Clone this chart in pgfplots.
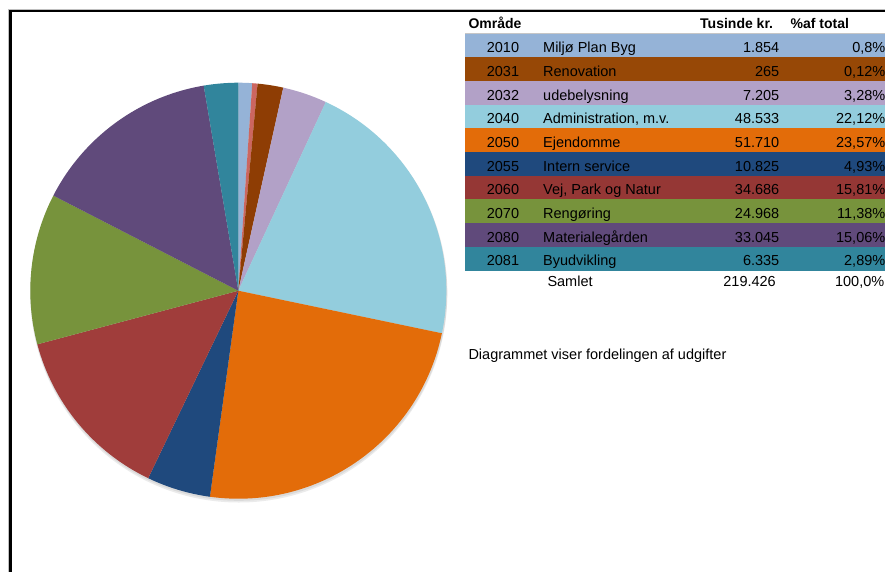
\documentclass[border=0pt]{standalone}
\usepackage{pgfplots}
\pgfplotsset{compat=1.18}
\usepackage{fontspec}
\setmainfont{Liberation Sans}

\definecolor{cLblue}{HTML}{95B3D7}
\definecolor{cSalmon}{HTML}{CC6660}
\definecolor{cBrown}{HTML}{8E3D04}
\definecolor{cBrownT}{HTML}{974806}
\definecolor{cLilac}{HTML}{B2A1C7}
\definecolor{cCyan}{HTML}{93CDDD}
\definecolor{cOrange}{HTML}{E36C09}
\definecolor{cDblue}{HTML}{1F497D}
\definecolor{cRed}{HTML}{A03D3B}
\definecolor{cRedT}{HTML}{953735}
\definecolor{cGreen}{HTML}{77933C}
\definecolor{cPurple}{HTML}{604A7B}
\definecolor{cTeal}{HTML}{31859C}

\tikzset{txt/.style={font=\fontsize{14.5bp}{16bp}\selectfont, inner sep=0pt},
         hdr/.style={font=\fontsize{14bp}{16bp}\selectfont\bfseries, inner sep=0pt}}

% pie wedge: start %, end %, colour (clockwise from 12 o'clock)
\newcommand\slice[3]{%
  \fill[#3] (axis cs:238.3,290.7) -- ++({90-3.6*#1}:208bp)
    arc[start angle={90-3.6*#1}, end angle={90-3.6*#2}, radius=208bp] -- cycle;}

% table row: row index, colour, code, name, value, percent
\newcommand\trow[6]{%
  \fill[#2] (axis cs:465,{33.5+23.7*(#1-1)}) rectangle (axis cs:890,{33.5+23.7*#1});
  \node[txt, anchor=base] at (axis cs:503,{52.6+23.7*(#1-1)}) {#3};
  \node[txt, anchor=base west] at (axis cs:543,{52.6+23.7*(#1-1)}) {#4};
  \node[txt, anchor=base east] at (axis cs:779.5,{52.6+23.7*(#1-1)}) {#5};
  \node[txt, anchor=base east] at (axis cs:885.5,{52.6+23.7*(#1-1)}) {#6};}

\begin{document}
\begin{tikzpicture}
\path[use as bounding box] (0,0) rectangle (885bp,-572bp);
\begin{axis}[
    at={(0,0)}, anchor=north west,
    x=1bp, y=1bp,
    xmin=0, xmax=885, ymin=0, ymax=572,
    y dir=reverse,
    hide axis, clip=false,
]
% frame
\draw[gray!50, line width=0.8bp] (axis cs:8.4,600) -- (axis cs:8.4,9.3) -- (axis cs:900,9.3);
\draw[black, line width=2.4bp] (axis cs:10.3,600) -- (axis cs:10.3,11.2) -- (axis cs:900,11.2);

% pie shadow
\fill[black, opacity=0.08] (axis cs:238.8,294) circle[radius=208.5bp];
\fill[black, opacity=0.07] (axis cs:238.8,292.3) circle[radius=208.5bp];

% pie (shares in %: 1.07 0.41 1.99 3.44 21.37 23.90 4.95 13.72 11.71 14.78 2.66)
\slice{0}{1.07}{cLblue}
\slice{1.07}{1.48}{cSalmon}
\slice{1.48}{3.47}{cBrown}
\slice{3.47}{6.91}{cLilac}
\slice{6.91}{28.28}{cCyan}
\slice{28.28}{52.18}{cOrange}
\slice{52.18}{57.13}{cDblue}
\slice{57.13}{70.85}{cRed}
\slice{70.85}{82.56}{cGreen}
\slice{82.56}{97.34}{cPurple}
\slice{97.34}{100}{cTeal}

% table
\node[hdr, anchor=base west] at (axis cs:468.3,28.3) {Område};
\node[hdr, anchor=base east] at (axis cs:773.3,28.3) {Tusinde kr.};
\node[hdr, anchor=base west] at (axis cs:790.5,28.3) {\%af total};
\draw[gray!45, line width=0.8bp] (axis cs:465,33.3) -- (axis cs:890,33.3);

\trow{1}{cLblue}{2010}{Miljø Plan Byg}{1.854}{0,8\%}
\trow{2}{cBrownT}{2031}{Renovation}{265}{0,12\%}
\trow{3}{cLilac}{2032}{udebelysning}{7.205}{3,28\%}
\trow{4}{cCyan}{2040}{Administration, m.v.}{48.533}{22,12\%}
\trow{5}{cOrange}{2050}{Ejendomme}{51.710}{23,57\%}
\trow{6}{cDblue}{2055}{Intern service}{10.825}{4,93\%}
\trow{7}{cRedT}{2060}{Vej, Park og Natur}{34.686}{15,81\%}
\trow{8}{cGreen}{2070}{Rengøring}{24.968}{11,38\%}
\trow{9}{cPurple}{2080}{Materialegården}{33.045}{15,06\%}
\trow{10}{cTeal}{2081}{Byudvikling}{6.335}{2,89\%}

\node[txt, anchor=base west] at (axis cs:547.3,286.7) {Samlet};
\node[txt, anchor=base east] at (axis cs:776,286.7) {219.426};
\node[txt, anchor=base east] at (axis cs:884.5,286.7) {100,0\%};

\node[txt, anchor=base west] at (axis cs:468.3,359.3) {Diagrammet viser fordelingen af udgifter};
\end{axis}
\end{tikzpicture}
\end{document}
